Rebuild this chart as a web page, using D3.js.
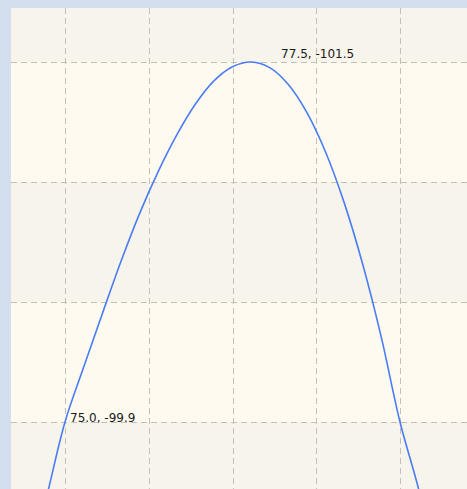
<!DOCTYPE html>
<html lang="en">
<head>
  <meta charset="UTF-8">
  <title>Curve detail</title>
  <style>
    html, body {
      margin: 0;
      background-color: #d3dfee;
    }
    svg {
      display: block;
    }
    .grid line {
      stroke: #c4c0b8;
      stroke-width: 1;
      stroke-dasharray: 6, 4;
      shape-rendering: crispEdges;
    }
    .point-label {
      font-family: "DejaVu Sans", sans-serif;
      font-size: 12px;
      fill: #1a1a1a;
    }
  </style>
</head>
<body>
  <svg id="chart"></svg>

  <script src="https://cdnjs.cloudflare.com/ajax/libs/d3/7.8.5/d3.min.js"></script>
  <script>
    // series (x, y)
    const xValues = [74.5, 74.75, 75.0, 75.25, 75.5, 75.75, 76.0, 76.25, 76.5, 76.75, 77.0, 77.25, 77.5,
                     77.75, 78.0, 78.25, 78.5, 78.75, 79.0, 79.25, 79.5, 79.75, 80.0];
    const yValues = [-99.25, -99.564, -99.9, -100.143, -100.38, -100.612, -100.825, -101.012, -101.175, -101.312, -101.416, -101.479, -101.5,
                     -101.475, -101.4, -101.275, -101.1, -100.875, -100.6, -100.275, -99.9, -99.602, -99.25];

    // grid positions (data units)
    const xTicks = [75.0, 76.125, 77.25, 78.375, 79.5];
    const yTicks = [-102.0333, -101.5, -100.9667, -100.4333, -99.9, -99.3667];

    // annotated points
    const labelX = [77.5, 75.0];
    const labelY = [-101.5, -99.9];
    const labelText = ['77.5, -101.5', '75.0, -99.9'];

    const width = 467;
    const height = 489;
    const plot = { left: 11, top: 8 };
    const labelOffsets = [[30, -4], [5, 0]];

    const svg = d3.select('#chart')
      .attr('width', width)
      .attr('height', height);

    const x = d3.scaleLinear().domain([75.0, 79.5]).range([65, 400]);
    const y = d3.scaleLinear().domain([-101.5, -99.9]).range([62, 422]);

    svg.append('clipPath')
      .attr('id', 'plot-clip')
      .append('rect')
      .attr('x', plot.left)
      .attr('y', plot.top)
      .attr('width', width - plot.left)
      .attr('height', height - plot.top);

    const g = svg.append('g').attr('clip-path', 'url(#plot-clip)');

    g.append('rect')
      .attr('x', plot.left)
      .attr('y', plot.top)
      .attr('width', width - plot.left)
      .attr('height', height - plot.top)
      .attr('fill', '#fefaf0');

    // alternating bands between horizontal grid lines
    const bands = d3.pairs(yTicks);
    g.append('g')
      .selectAll('rect')
      .data(bands)
      .join('rect')
      .attr('x', plot.left)
      .attr('width', width - plot.left)
      .attr('y', d => y(d[0]))
      .attr('height', d => y(d[1]) - y(d[0]))
      .attr('fill', (d, i) => i % 2 === 0 ? '#f7f4eb' : '#fefaf0');

    const grid = g.append('g').attr('class', 'grid');
    grid.selectAll('line.h')
      .data(yTicks)
      .join('line')
      .attr('class', 'h')
      .attr('x1', plot.left)
      .attr('x2', width)
      .attr('y1', d => Math.round(y(d)) + 0.5)
      .attr('y2', d => Math.round(y(d)) + 0.5);
    grid.selectAll('line.v')
      .data(xTicks)
      .join('line')
      .attr('class', 'v')
      .attr('y1', plot.top)
      .attr('y2', height)
      .attr('x1', d => Math.round(x(d)) + 0.5)
      .attr('x2', d => Math.round(x(d)) + 0.5);

    const points = xValues.map((v, i) => [v, yValues[i]]);
    const line = d3.line()
      .x(d => x(d[0]))
      .y(d => y(d[1]))
      .curve(d3.curveCatmullRom);

    g.append('path')
      .datum(points)
      .attr('fill', 'none')
      .attr('stroke', '#4a7cf6')
      .attr('stroke-width', 1.6)
      .attr('d', line);

    g.selectAll('text.point-label')
      .data(labelText)
      .join('text')
      .attr('class', 'point-label')
      .attr('x', (d, i) => x(labelX[i]) + labelOffsets[i][0])
      .attr('y', (d, i) => y(labelY[i]) + labelOffsets[i][1])
      .text(d => d);
  </script>
</body>
</html>
